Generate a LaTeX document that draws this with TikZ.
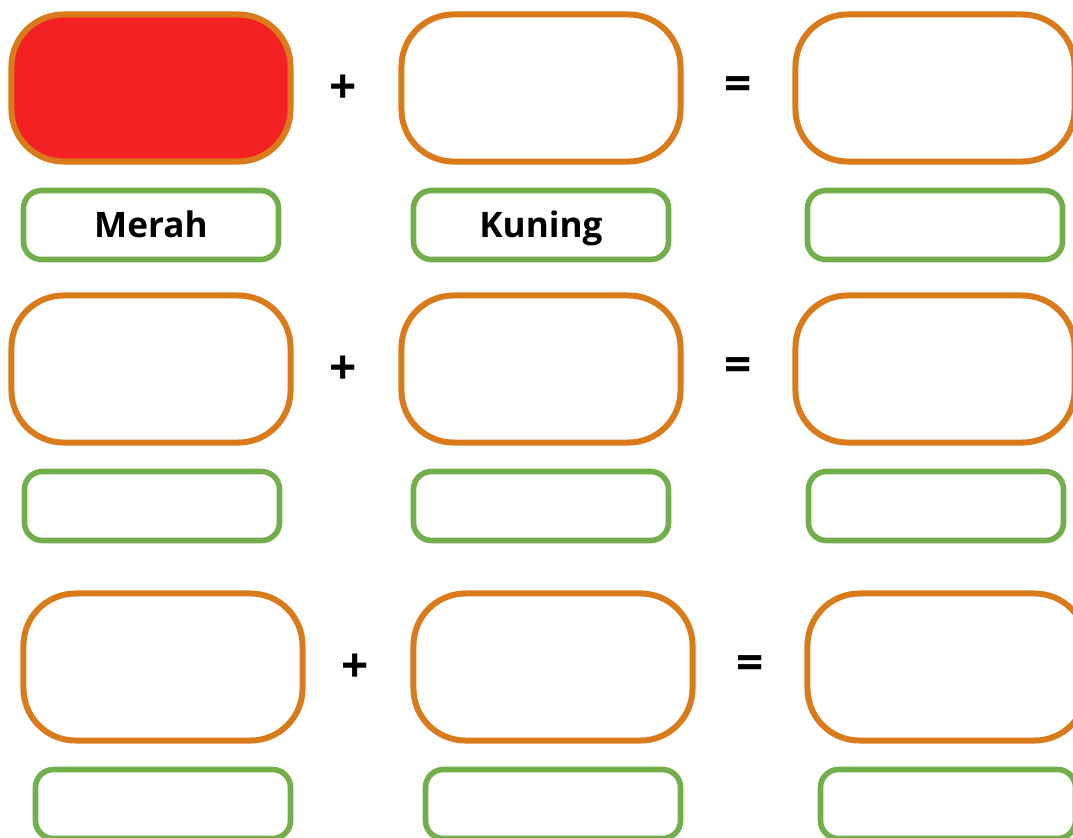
\documentclass[tikz,border=0pt]{standalone}
\usepackage{fontspec}
\setmainfont{Open Sans}
\usepackage{tikz}
\usetikzlibrary{positioning}
\definecolor{boxorange}{RGB}{217,122,27}
\definecolor{boxgreen}{RGB}{114,174,74}
\definecolor{colorred}{RGB}{243,33,36}

\begin{document}
\begin{tikzpicture}[x=0.025cm, y=-0.025cm,
    colorbox/.style={draw=boxorange, line width=0.15cm, rounded corners=1.3cm,
                     minimum width=6.975cm, minimum height=3.675cm, inner sep=0pt},
    namebox/.style={draw=boxgreen, line width=0.14cm, rounded corners=0.45cm,
                    minimum width=6.375cm, minimum height=1.725cm, inner sep=0pt,
                    text height=17.8pt, text depth=0pt,
                    font=\fontsize{25}{27}\selectfont\bfseries},
    opsign/.style={font=\fontsize{34}{34}\selectfont\bfseries, inner sep=0pt}]

    \useasboundingbox (0,0) rectangle (1073,837);

    % ---- Baris 1 ----
    \node[colorbox, fill=colorred] (a_in1) at (151, 88) {};
    \node[opsign] (a_plus) at (343, 89) {+};
    \node[colorbox] (a_in2) at (541, 88) {};
    \node[opsign] (a_eq) at (738, 89) {=};
    \node[colorbox] (a_out) at (935, 88) {};

    \node[namebox] (a_lab1) at (151, 225) {Merah};
    \node[namebox] (a_lab2) at (541, 225) {Kuning};
    \node[namebox] (a_lab3) at (935, 225) {};

    % ---- Baris 2 ----
    \node[colorbox] (b_in1) at (151, 369) {};
    \node[opsign] (b_plus) at (343, 370) {+};
    \node[colorbox] (b_in2) at (541, 369) {};
    \node[opsign] (b_eq) at (738, 370) {=};
    \node[colorbox] (b_out) at (935, 369) {};

    \node[namebox] (b_lab1) at (152, 506) {};
    \node[namebox] (b_lab2) at (541, 506) {};
    \node[namebox] (b_lab3) at (936, 506) {};

    % ---- Baris 3 (sedikit bergeser ke kanan) ----
    \node[colorbox] (c_in1) at (163, 667) {};
    \node[opsign] (c_plus) at (355, 668) {+};
    \node[colorbox] (c_in2) at (553, 667) {};
    \node[opsign] (c_eq) at (750, 668) {=};
    \node[colorbox] (c_out) at (947, 667) {};

    \node[namebox] (c_lab1) at (163, 804) {};
    \node[namebox] (c_lab2) at (553, 804) {};
    \node[namebox] (c_lab3) at (948, 804) {};

\end{tikzpicture}
\end{document}
